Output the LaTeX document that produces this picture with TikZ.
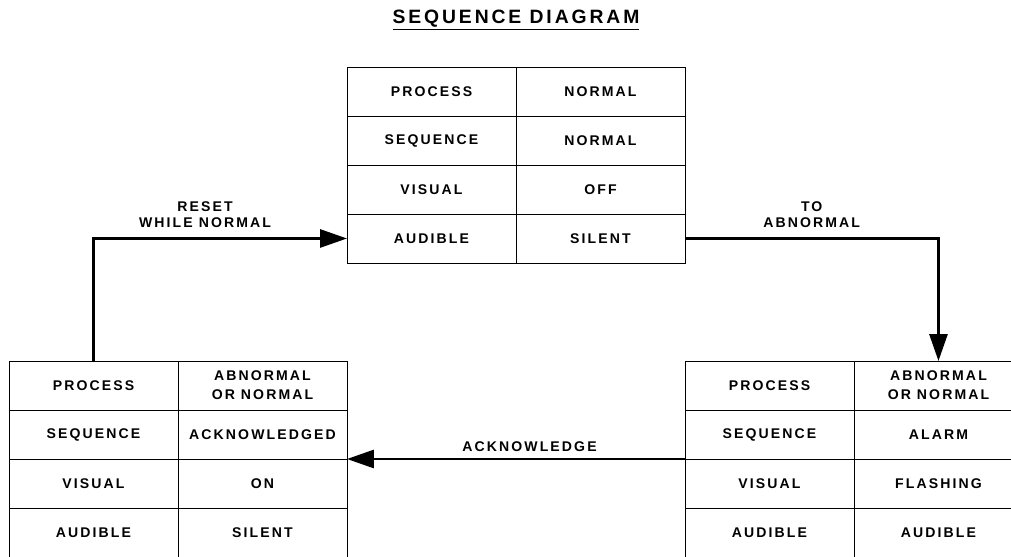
\documentclass[tikz,border=0pt]{standalone}
\usepackage{fontspec}
\newfontfamily\seqfont{Liberation Sans}[LetterSpace=15]
\usetikzlibrary{positioning,arrows.meta}

\tikzset{
  cell/.style={draw, line width=0.45pt, minimum width=33.8mm, minimum height=9.8mm,
    outer sep=0pt, inner sep=0pt, align=center,
    font=\seqfont\bfseries\fontsize{8}{10.8}\selectfont},
  flow/.style={line width=1.6pt, -{Triangle[length=5.4mm,width=3.6mm]}},
  lbl/.style={font=\seqfont\bfseries\fontsize{8}{9.6}\selectfont, align=center, inner sep=0pt}
}

\begin{document}
\begin{tikzpicture}[x=0.02cm,y=-0.02cm,node distance=9.8mm and 33.8mm,on grid]
\useasboundingbox (0,0) rectangle (1011,556);
\clip (0,0) rectangle (1011,556);

\node[font=\seqfont\bfseries\fontsize{11}{13}\selectfont] (title) at (516,20) {\underline{SEQUENCE DIAGRAM}};

% normal state
\node[cell] (tproc) at (431.5,91.5) {PROCESS};
\node[cell] (tprocv) [right=of tproc] {NORMAL};
\node[cell] (tseq) [below=of tproc] {SEQUENCE};
\node[cell] (tseqv) [right=of tseq] {NORMAL};
\node[cell] (tvis) [below=of tseq] {VISUAL};
\node[cell] (toff) [right=of tvis] {OFF};
\node[cell] (taud) [below=of tvis] {AUDIBLE};
\node[cell] (tsil) [right=of taud] {SILENT};

% acknowledged state
\node[cell] (lproc) at (93.5,385.5) {PROCESS};
\node[cell] (lprocv) [right=of lproc] {ABNORMAL\\OR NORMAL};
\node[cell] (lseq) [below=of lproc] {SEQUENCE};
\node[cell] (lack) [right=of lseq] {ACKNOWLEDGED};
\node[cell] (lvis) [below=of lseq] {VISUAL};
\node[cell] (lon) [right=of lvis] {ON};
\node[cell] (laud) [below=of lvis] {AUDIBLE};
\node[cell] (lsil) [right=of laud] {SILENT};

% alarm state
\node[cell] (rproc) at (769.5,385.5) {PROCESS};
\node[cell] (rprocv) [right=of rproc] {ABNORMAL\\OR NORMAL};
\node[cell] (rseq) [below=of rproc] {SEQUENCE};
\node[cell] (ralarm) [right=of rseq] {ALARM};
\node[cell] (rvis) [below=of rseq] {VISUAL};
\node[cell] (rflash) [right=of rvis] {FLASHING};
\node[cell] (raud) [below=of rvis] {AUDIBLE};
\node[cell] (raudv) [right=of raud] {AUDIBLE};

\draw[flow] (lproc.north) |- node[lbl, above=1.8mm, pos=0.72] {RESET\\WHILE NORMAL} (taud.west);
\draw[flow] (tsil.east) -| node[lbl, above=1.8mm, pos=0.25] {TO\\ABNORMAL} (rprocv.north);
\draw[flow] (rvis.north west) -- node[lbl, above=1.1mm, pos=0.46] {ACKNOWLEDGE} (lon.north east);
\end{tikzpicture}
\end{document}
